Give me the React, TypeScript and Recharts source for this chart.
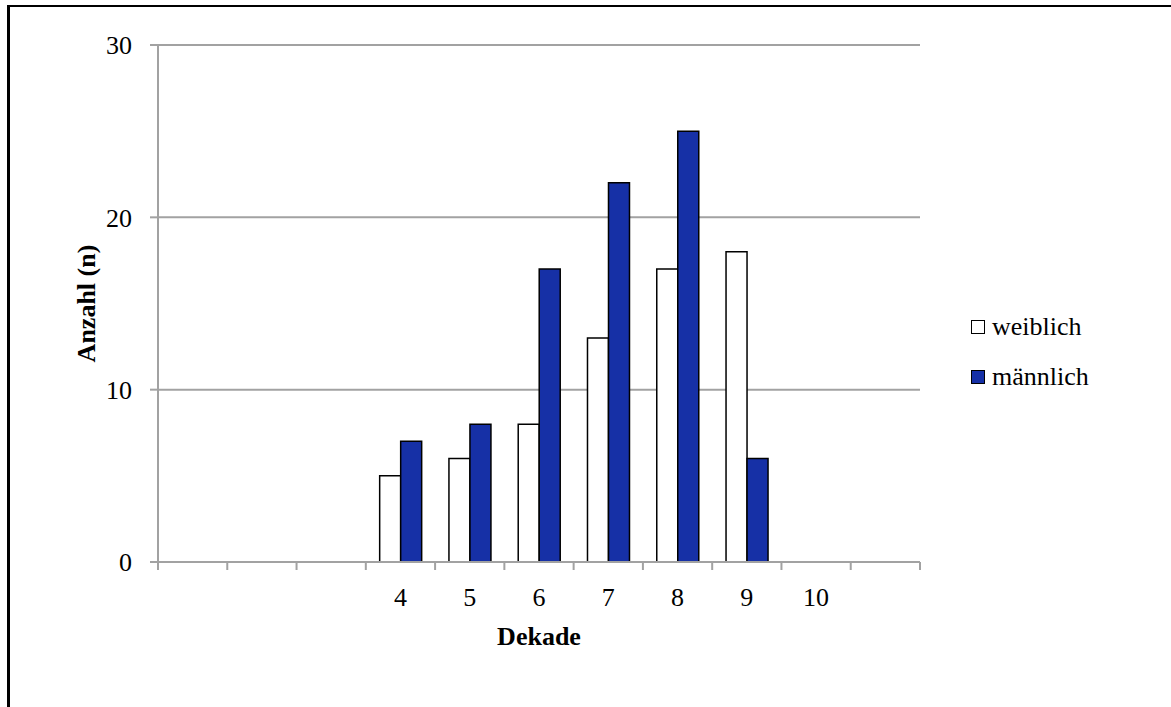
import { Bar, BarChart, CartesianGrid, Label, Legend, XAxis, YAxis } from "recharts";

const decades = [1, 2, 3, 4, 5, 6, 7, 8, 9, 10, 11];
const tickLabels = ["", "", "", "4", "5", "6", "7", "8", "9", "10", ""];
const weiblich = [null, null, null, 5, 6, 8, 13, 17, 18, null, null];
const maennlich = [null, null, null, 7, 8, 17, 22, 25, 6, null, null];
const yTicks = [0, 10, 20, 30];

const data = decades.map((d, i) => ({
  dekade: d,
  weiblich: weiblich[i],
  maennlich: maennlich[i],
}));

const FONT = '"Liberation Serif", "Times New Roman", serif';
const GRID = "#a2a2a2";
const BLUE = "#1630a6";
const PLOT_W = 762;
const BAND = PLOT_W / decades.length;

function DecadeTick(props: any) {
  const { x, y, index } = props;
  const half = BAND / 2;
  return (
    <g>
      <line x1={x - half} y1={y} x2={x - half} y2={y + 8} stroke={GRID} strokeWidth={2} />
      {index === decades.length - 1 && (
        <line x1={x + half} y1={y} x2={x + half} y2={y + 8} stroke={GRID} strokeWidth={2} />
      )}
      <text x={x} y={y + 44} textAnchor="middle" fontFamily={FONT} fontSize={26} fill="#000">
        {tickLabels[index]}
      </text>
    </g>
  );
}

function CountLabel(props: any) {
  const { viewBox } = props;
  const cx = viewBox.x + 37;
  const cy = viewBox.y + viewBox.height / 2;
  return (
    <text
      x={cx}
      y={cy}
      transform={`rotate(-90, ${cx}, ${cy})`}
      textAnchor="middle"
      fontFamily={FONT}
      fontSize={26}
      fontWeight="bold"
      fill="#000"
    >
      Anzahl (n)
    </text>
  );
}

const legendItems = [
  { name: "weiblich", fill: "#ffffff" },
  { name: "männlich", fill: BLUE },
];

function SexLegend() {
  return (
    <div style={{ fontFamily: FONT, fontSize: 26, color: "#000" }}>
      {legendItems.map((item) => (
        <div key={item.name} style={{ display: "flex", alignItems: "center", height: 50 }}>
          <span
            style={{
              display: "inline-block",
              width: 12,
              height: 12,
              border: "1.5px solid #000",
              background: item.fill,
              marginRight: 7,
            }}
          />
          <span>{item.name}</span>
        </div>
      ))}
    </div>
  );
}

export default function App() {
  return (
    <div style={{ position: "absolute", left: 0, top: 0, width: 1171, height: 707, background: "#fff" }}>
      <div
        style={{
          position: "absolute",
          left: 7,
          top: 5,
          width: 1171,
          height: 707,
          borderLeft: "3px solid #000",
          borderTop: "2px solid #000",
        }}
      />
      <BarChart
        width={1171}
        height={707}
        data={data}
        margin={{ top: 45, right: 251, left: 58, bottom: 62 }}
        barCategoryGap="20%"
        barGap={0}
        style={{ position: "absolute", left: 0, top: 0 }}
      >
        <CartesianGrid vertical={false} stroke={GRID} strokeWidth={2} />
        <XAxis
          dataKey="dekade"
          height={83}
          interval={0}
          tickSize={0}
          tickMargin={0}
          axisLine={{ stroke: GRID, strokeWidth: 2 }}
          tick={<DecadeTick />}
        >
          <Label
            value="Dekade"
            position="insideBottom"
            offset={0}
            style={{ fontFamily: FONT, fontSize: 26, fontWeight: "bold", fill: "#000" }}
          />
        </XAxis>
        <YAxis
          width={100}
          domain={[0, 30]}
          ticks={yTicks}
          tickSize={8}
          tickMargin={18}
          axisLine={{ stroke: GRID, strokeWidth: 2 }}
          tickLine={{ stroke: GRID, strokeWidth: 2 }}
          tick={{ fontFamily: FONT, fontSize: 26, fill: "#000" }}
        >
          <Label content={<CountLabel />} />
        </YAxis>
        <Legend
          layout="vertical"
          align="center"
          verticalAlign="middle"
          content={<SexLegend />}
          wrapperStyle={{ left: 971, top: 302, width: 160 }}
        />
        <Bar dataKey="weiblich" name="weiblich" fill="#ffffff" stroke="#000" strokeWidth={1.5} isAnimationActive={false} />
        <Bar dataKey="maennlich" name="männlich" fill={BLUE} stroke="#000" strokeWidth={1.5} isAnimationActive={false} />
      </BarChart>
    </div>
  );
}
